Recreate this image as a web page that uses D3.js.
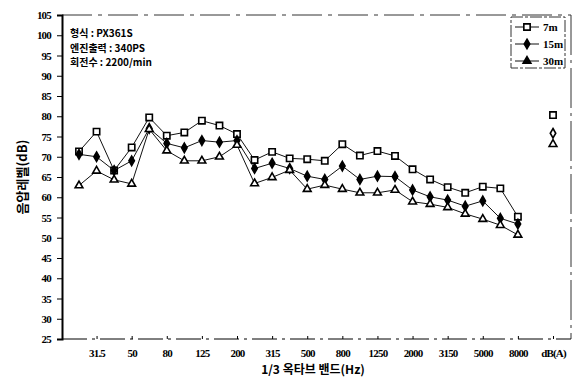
<!DOCTYPE html>
<html>
<head>
<meta charset="utf-8">
<script src="https://cdn.jsdelivr.net/npm/d3@7"></script>
<style>
  body { margin: 0; background: #fff; }
  svg { display: block; }
</style>
</head>
<body>
<div id="chart"></div>
<script>
// 1/3 octave bands, then the overall dB(A) value
const bands = ['25', '31.5', '40', '50', '63', '80', '100', '125', '160', '200', '250', '315', '400',
  '500', '630', '800', '1000', '1250', '1600', '2000', '2500', '3150', '4000', '5000', '6300', '8000'];
const xTickLabels = ['31.5', '50', '80', '125', '200', '315', '500', '800', '1250', '2000', '3150', '5000', '8000', 'dB(A)'];
const yTicks = [25, 30, 35, 40, 45, 50, 55, 60, 65, 70, 75, 80, 85, 90, 95, 100, 105];

const series7m = [71.3, 76.2, 66.6, 72.3, 79.7, 75.2, 76.0, 78.9, 77.7, 75.6, 69.2, 71.2, 69.6,
  69.4, 69.0, 73.1, 70.3, 71.4, 70.2, 66.9, 64.4, 62.5, 61.1, 62.6, 62.2, 55.2];
const series15m = [70.6, 70.0, 66.6, 69.0, 77.0, 73.3, 72.2, 74.0, 73.6, 74.0, 67.1, 68.4, 67.1,
  65.2, 64.4, 67.7, 64.4, 65.2, 65.1, 61.8, 60.1, 59.3, 57.8, 59.1, 54.8, 53.4];
const series30m = [62.9, 66.5, 64.3, 63.3, 76.8, 71.5, 69.0, 69.0, 70.0, 72.9, 63.4, 64.9, 66.7,
  62.0, 63.0, 62.0, 61.1, 61.1, 61.8, 58.9, 58.3, 57.5, 55.9, 54.6, 53.1, 50.7];
const overallDBA = [80.3, 75.8, 73.1];  // 7m, 15m, 30m
const seriesNames = ['7m', '15m', '30m'];
const infoLines = ['형식 : PX361S', '엔진출력 : 340PS', '회전수 : 2200/min'];

const width = 577, height = 378;
const plot = { left: 62, right: 571, top: 15, bottom: 339 };

const svg = d3.select('#chart').append('svg')
  .attr('width', width)
  .attr('height', height);

// dB(A) sits two slots after the last band
const dbaIndex = bands.length + 1;
const xScale = d3.scaleLinear().domain([0, dbaIndex]).range([79, 553]);
const yScale = d3.scaleLinear().domain([25, 105]).range([plot.bottom, plot.top]);

const tickIndex = label => label === 'dB(A)' ? dbaIndex : bands.indexOf(label);

/* ---------- frame ---------- */
svg.append('line')
  .attr('x1', plot.left).attr('x2', plot.right)
  .attr('y1', plot.top).attr('y2', plot.top)
  .style('stroke', '#333').style('stroke-width', 1).style('stroke-dasharray', '30,6,4,6');
svg.append('line')
  .attr('x1', plot.right).attr('x2', plot.right)
  .attr('y1', plot.top).attr('y2', plot.bottom)
  .style('stroke', '#333').style('stroke-width', 1).style('stroke-dasharray', '40,5,3,5');

/* ---------- axes ---------- */
const yAxis = svg.append('g')
  .attr('class', 'axis axis--y')
  .attr('transform', 'translate(' + plot.left + ',0)')
  .call(d3.axisLeft(yScale).tickValues(yTicks).tickSize(5).tickPadding(6));
yAxis.select('.domain').style('stroke-width', 2);
yAxis.selectAll('text')
  .style('font-family', 'Liberation Serif')
  .style('font-size', '11px')
  .style('font-weight', 'bold')
  .style('letter-spacing', '-0.8px');

const xAxis = svg.append('g')
  .attr('class', 'axis axis--x')
  .attr('transform', 'translate(0,' + plot.bottom + ')')
  .call(d3.axisBottom(xScale)
    .tickValues(xTickLabels.map(tickIndex))
    .tickFormat((d, i) => xTickLabels[i])
    .tickSizeInner(-3).tickSizeOuter(0).tickPadding(10));
xAxis.select('.domain')
  .attr('d', 'M' + plot.left + ',0H' + plot.right)
  .style('stroke-dasharray', '25,5,3,5');
xAxis.selectAll('text')
  .style('font-family', 'Liberation Serif')
  .style('font-size', '11px')
  .style('font-weight', 'bold')
  .style('letter-spacing', '-0.8px');

/* ---------- axis titles ---------- */
svg.append('text')
  .attr('transform', 'translate(27,177) rotate(-90)')
  .style('text-anchor', 'middle')
  .style('font-family', 'Noto Sans CJK KR')
  .style('font-size', '13px')
  .style('font-weight', 'bold')
  .text('음압레벨(dB)');

svg.append('text')
  .attr('x', 313)
  .attr('y', 374)
  .style('text-anchor', 'middle')
  .style('font-family', 'Noto Sans CJK KR')
  .style('font-size', '12px')
  .style('font-weight', 'bold')
  .text('1/3 옥타브 밴드(Hz)');

/* ---------- info text ---------- */
svg.append('g').selectAll('text')
  .data(infoLines)
  .enter()
  .append('text')
  .attr('x', 70)
  .attr('y', (d, i) => 37 + i * 14.5)
  .style('font-family', 'Noto Sans CJK KR')
  .style('font-size', '10px')
  .style('font-weight', 'bold')
  .text(d => d);

/* ---------- lines ---------- */
const line = d3.line()
  .x((d, i) => xScale(i))
  .y(d => yScale(d));

const allSeries = [series7m, series15m, series30m];
const lineG = svg.append('g').attr('class', 'line-g');
lineG.selectAll('path')
  .data(allSeries)
  .enter()
  .append('path')
  .attr('d', line)
  .style('fill', 'none')
  .style('stroke', '#111')
  .style('stroke-width', 1);

/* ---------- markers ---------- */
const symbolTypes = [d3.symbolSquare, d3.symbolDiamond, d3.symbolTriangle];
const symbolSizes = [40, 26, 26];
const symbolFills = ['#fff', '#000', '#fff'];

function drawMarkers(g, values, idx, xOf) {
  g.selectAll('path.marker-' + idx)
    .data(values)
    .enter()
    .append('path')
    .attr('class', 'marker-' + idx)
    .attr('transform', (d, i) => 'translate(' + xOf(i) + ',' + yScale(d) + ')')
    .attr('d', d3.symbol().type(symbolTypes[idx]).size(symbolSizes[idx]))
    .style('fill', symbolFills[idx])
    .style('stroke', '#000')
    .style('stroke-width', 1.6);
}

allSeries.forEach((s, idx) => drawMarkers(lineG, s, idx, i => xScale(i)));

// dB(A) overall values, unconnected, drawn open
const dbaG = svg.append('g').attr('class', 'dba-g');
overallDBA.forEach((v, idx) => {
  dbaG.append('path')
    .attr('transform', 'translate(' + xScale(dbaIndex) + ',' + yScale(v) + ')')
    .attr('d', d3.symbol().type(symbolTypes[idx]).size(symbolSizes[idx]))
    .style('fill', '#fff')
    .style('stroke', '#000')
    .style('stroke-width', 1.6);
});

/* ---------- legend ---------- */
const legend = svg.append('g').attr('class', 'legend');
legend.append('rect')
  .attr('x', 511).attr('y', 17)
  .attr('width', 54).attr('height', 51)
  .style('fill', '#fff')
  .style('stroke', '#333')
  .style('stroke-width', 1)
  .style('stroke-dasharray', '12,2,3,2');

const legendItems = legend.selectAll('g.item')
  .data(seriesNames)
  .enter()
  .append('g')
  .attr('class', 'item')
  .attr('transform', (d, i) => 'translate(0,' + (27 + i * 17) + ')');
legendItems.append('line')
  .attr('x1', 515).attr('x2', 539)
  .style('stroke', '#111').style('stroke-width', 1);
legendItems.append('path')
  .attr('transform', 'translate(527,0)')
  .attr('d', (d, i) => d3.symbol().type(symbolTypes[i]).size(symbolSizes[i])())
  .style('fill', (d, i) => i === 0 ? '#fff' : '#000')
  .style('stroke', '#000')
  .style('stroke-width', 1.6);
legendItems.append('text')
  .attr('x', 543)
  .attr('y', 4)
  .style('font-family', 'Liberation Serif')
  .style('font-size', '11px')
  .style('font-weight', 'bold')
  .text(d => d);
</script>
</body>
</html>
